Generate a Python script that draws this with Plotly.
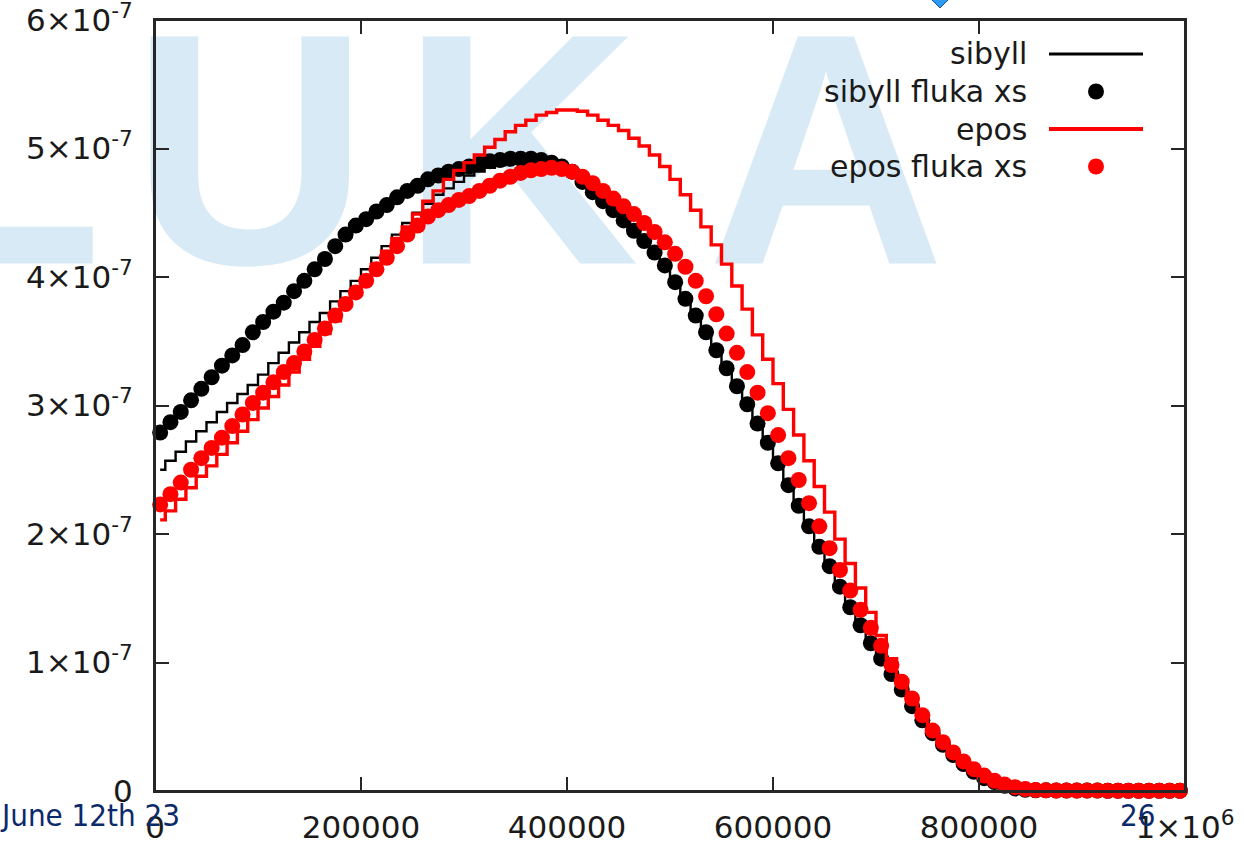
import numpy as np
import plotly.graph_objects as go

# ---------------- data (y values in units of 1e-7) ----------------
UNIT = 1e-7
BIN_CENTERS = np.arange(5000, 1000000, 10000)  # 100 bins, width 10000

SIBYLL = [
    2.50, 2.57, 2.64, 2.72, 2.80, 2.87, 2.95, 3.02, 3.09, 3.16,
    3.24, 3.33, 3.41, 3.49, 3.57, 3.65, 3.72, 3.81, 3.89, 3.97,
    4.06, 4.15, 4.24, 4.33, 4.42, 4.50, 4.57, 4.64, 4.69, 4.74,
    4.79, 4.82, 4.85, 4.87, 4.89, 4.90, 4.91, 4.90, 4.89, 4.86,
    4.80, 4.72, 4.64, 4.57, 4.50, 4.42, 4.34, 4.26, 4.17, 4.07,
    3.94, 3.81, 3.68, 3.55, 3.41, 3.27, 3.13, 2.99, 2.84, 2.69,
    2.53, 2.36, 2.20, 2.04, 1.88, 1.73, 1.57, 1.42, 1.28, 1.14,
    1.02, 0.90, 0.78, 0.65, 0.54, 0.44, 0.35, 0.27, 0.20, 0.14,
    0.10, 0.06, 0.04, 0.02, 0.01, 0.005, 0.004, 0.004, 0.003, 0.003,
    0.003, 0.002, 0.002, 0.002, 0.002, 0.002, 0.002, 0.002, 0.002, 0.002,
]

SIBYLL_FLUKA_XS = [
    2.79, 2.87, 2.95, 3.04, 3.13, 3.22, 3.31, 3.39, 3.47, 3.57,
    3.65, 3.73, 3.80, 3.89, 3.97, 4.06, 4.14, 4.24, 4.33, 4.40,
    4.45, 4.51, 4.56, 4.62, 4.67, 4.71, 4.76, 4.79, 4.82, 4.84,
    4.86, 4.88, 4.90, 4.91, 4.92, 4.92, 4.92, 4.91, 4.89, 4.86,
    4.82, 4.74, 4.66, 4.59, 4.52, 4.44, 4.36, 4.28, 4.19, 4.09,
    3.96, 3.83, 3.70, 3.57, 3.43, 3.29, 3.15, 3.01, 2.86, 2.71,
    2.55, 2.38, 2.22, 2.06, 1.90, 1.75, 1.59, 1.43, 1.29, 1.15,
    1.03, 0.91, 0.79, 0.66, 0.55, 0.45, 0.36, 0.28, 0.21, 0.15,
    0.10, 0.07, 0.04, 0.02, 0.01, 0.006, 0.005, 0.004, 0.004, 0.003,
    0.003, 0.003, 0.002, 0.002, 0.002, 0.002, 0.002, 0.002, 0.002, 0.002,
]

EPOS = [
    2.11, 2.18, 2.27, 2.36, 2.45, 2.53, 2.62, 2.71, 2.80, 2.89,
    2.98, 3.07, 3.16, 3.26, 3.36, 3.46, 3.56, 3.66, 3.77, 3.88,
    3.99, 4.10, 4.20, 4.30, 4.39, 4.49, 4.59, 4.67, 4.76, 4.83,
    4.89, 4.95, 5.01, 5.07, 5.13, 5.18, 5.22, 5.26, 5.28, 5.30,
    5.30, 5.29, 5.26, 5.22, 5.18, 5.14, 5.08, 5.02, 4.95, 4.86,
    4.76, 4.64, 4.52, 4.39, 4.25, 4.10, 3.93, 3.75, 3.55, 3.36,
    3.17, 2.97, 2.77, 2.57, 2.37, 2.17, 1.96, 1.77, 1.58, 1.39,
    1.21, 1.03, 0.86, 0.72, 0.59, 0.47, 0.38, 0.30, 0.23, 0.17,
    0.12, 0.08, 0.05, 0.03, 0.015, 0.007, 0.005, 0.004, 0.004, 0.003,
    0.003, 0.003, 0.002, 0.002, 0.002, 0.002, 0.002, 0.002, 0.002, 0.002,
]

EPOS_FLUKA_XS = [
    2.23, 2.31, 2.40, 2.50, 2.59, 2.67, 2.75, 2.84, 2.93, 3.02,
    3.10, 3.18, 3.26, 3.33, 3.42, 3.51, 3.60, 3.70, 3.79, 3.88,
    3.97, 4.06, 4.15, 4.24, 4.33, 4.40, 4.47, 4.52, 4.56, 4.60,
    4.63, 4.67, 4.71, 4.75, 4.78, 4.81, 4.83, 4.84, 4.85, 4.84,
    4.82, 4.78, 4.73, 4.67, 4.61, 4.55, 4.49, 4.42, 4.35, 4.27,
    4.18, 4.08, 3.97, 3.85, 3.71, 3.56, 3.41, 3.26, 3.10, 2.94,
    2.77, 2.59, 2.42, 2.24, 2.06, 1.89, 1.72, 1.56, 1.41, 1.27,
    1.13, 0.98, 0.85, 0.72, 0.59, 0.47, 0.38, 0.30, 0.23, 0.17,
    0.12, 0.08, 0.05, 0.03, 0.015, 0.007, 0.005, 0.004, 0.004, 0.003,
    0.003, 0.003, 0.002, 0.002, 0.002, 0.002, 0.002, 0.002, 0.002, 0.002,
]

SERIES_NAMES = ["sibyll", "sibyll fluka xs", "epos", "epos fluka xs"]

X_TICKS = [0, 200000, 400000, 600000, 800000, 1000000]
X_TICK_TEXT = ["0", "200000", "400000", "600000", "800000", "1×10<sup>6</sup>"]
Y_TICKS = [0, 1, 2, 3, 4, 5, 6]          # in units of 1e-7
Y_TICK_TEXT = ["0"] + [f"{k}×10<sup>-7</sup>" for k in range(1, 7)]

WATERMARK_LETTERS = ["U", "K", "A"]
WATERMARK_FIRST = "L"

X_RANGE = [0, 1000000]
Y_RANGE = [0, 6.00001]                   # in units of 1e-7

# ---------------- layout geometry (pixels) ----------------
W, H = 1244, 846
L_PX, R_PX, T_PX, B_PX = 155, 1185, 20, 791
TICKLEN = 14


def PX(px):
    return (px - L_PX) / (R_PX - L_PX)


def PY(py):
    return (B_PX - py) / (B_PX - T_PX)


def DX(px):
    return X_RANGE[0] + PX(px) * (X_RANGE[1] - X_RANGE[0])


def DY(py):
    return Y_RANGE[0] + PY(py) * (Y_RANGE[1] - Y_RANGE[0])


FONT = "DejaVu Sans, Verdana, sans-serif"
AXIS_COLOR = "#262626"
WM_FONT = dict(family="Liberation Sans, Arial, sans-serif", size=330,
               color="#d7eaf5", weight="bold")
WM_Y = DY(181)

fig = go.Figure()

# watermark (drawn first so the data lies on top)
fig.add_trace(go.Scatter(
    x=[DX(p) for p in (250, 520, 826)], y=[WM_Y] * 3,
    mode="text", text=WATERMARK_LETTERS, textposition="middle center",
    textfont=WM_FONT, cliponaxis=False, hoverinfo="skip", showlegend=False,
))
# the partly hidden first letter, right-anchored at the left edge of the frame
fig.add_trace(go.Scatter(
    x=[DX(155.6)], y=[WM_Y],
    mode="text",
    text=[WATERMARK_FIRST + "<span style='font-size:190px'>\u00a0</span>"],
    textposition="middle left",
    textfont=WM_FONT, cliponaxis=False, hoverinfo="skip", showlegend=False,
))

fig.add_trace(go.Scatter(x=BIN_CENTERS, y=SIBYLL, mode="lines", name=SERIES_NAMES[0],
                         line=dict(color="black", width=2.4, shape="hvh"), showlegend=False))
fig.add_trace(go.Scatter(x=BIN_CENTERS, y=SIBYLL_FLUKA_XS, mode="markers", name=SERIES_NAMES[1],
                         marker=dict(color="black", size=16), cliponaxis=False, showlegend=False))
fig.add_trace(go.Scatter(x=BIN_CENTERS, y=EPOS, mode="lines", name=SERIES_NAMES[2],
                         line=dict(color="#ff0000", width=3.4, shape="hvh"), showlegend=False))
fig.add_trace(go.Scatter(x=BIN_CENTERS, y=EPOS_FLUKA_XS, mode="markers", name=SERIES_NAMES[3],
                         marker=dict(color="#ff0000", size=16), cliponaxis=False, showlegend=False))

# manual gnuplot-style legend (text right-aligned, sample on the right)
annotations = []
shapes = []
leg_y = [54, 91.5, 129, 166.5]
for i, name in enumerate(SERIES_NAMES):
    annotations.append(dict(
        x=PX(1029), y=PY(leg_y[i]), xref="paper", yref="paper",
        text=name, showarrow=False, xanchor="right", yanchor="middle",
        font=dict(family=FONT, size=30, color="#1a1a1a"),
    ))
shapes.append(dict(type="line", xref="paper", yref="paper",
                   x0=PX(1049), x1=PX(1143), y0=PY(leg_y[0]), y1=PY(leg_y[0]),
                   line=dict(color="black", width=3)))
shapes.append(dict(type="line", xref="paper", yref="paper",
                   x0=PX(1049), x1=PX(1143), y0=PY(leg_y[2]), y1=PY(leg_y[2]),
                   line=dict(color="#ff0000", width=4)))
for idx, col in [(1, "black"), (3, "#ff0000")]:
    shapes.append(dict(type="circle", xref="paper", yref="paper",
                       xsizemode="pixel", ysizemode="pixel",
                       xanchor=PX(1096), yanchor=PY(leg_y[idx]),
                       x0=-8, x1=8, y0=-8, y1=8,
                       fillcolor=col, line=dict(width=0)))

# plot frame
shapes.append(dict(type="rect", xref="paper", yref="paper", x0=0, x1=1, y0=0, y1=1,
                   line=dict(color=AXIS_COLOR, width=2), fillcolor="rgba(0,0,0,0)",
                   layer="above"))
# mirrored x ticks along the top edge (gnuplot style)
for tv in X_TICKS[1:-1]:
    shapes.append(dict(type="line", xref="x", yref="paper", x0=tv, x1=tv,
                       y0=1, y1=1 - TICKLEN / (B_PX - T_PX),
                       line=dict(color=AXIS_COLOR, width=1.8), layer="above"))

# small slide icon at the top edge
cx, cy, s = 940, 0, 8
shapes.append(dict(type="path", xref="paper", yref="paper",
                   path=(f"M {PX(cx)},{PY(cy - s)} L {PX(cx + s)},{PY(cy)} "
                         f"L {PX(cx)},{PY(cy + s)} L {PX(cx - s)},{PY(cy)} Z"),
                   fillcolor="#2b9cf2", line=dict(color="#1b4f9c", width=1)))

# slide footer texts
FOOT_FONT = dict(family="DejaVu Sans Condensed, Tahoma, sans-serif", size=31, color="#0b2a6b")
annotations.append(dict(x=PX(-2), y=PY(815), xref="paper", yref="paper",
                        text="June 12th 23", showarrow=False, xanchor="left", yanchor="middle",
                        font=FOOT_FONT))
annotations.append(dict(x=PX(1137), y=PY(815), xref="paper", yref="paper",
                        text="26", showarrow=False, xanchor="center", yanchor="middle",
                        font=FOOT_FONT))

axis_common = dict(
    showline=True, linecolor=AXIS_COLOR, linewidth=2, mirror="ticks",
    ticks="inside", ticklen=TICKLEN, tickwidth=1.8, tickcolor=AXIS_COLOR,
    showgrid=False, zeroline=False, automargin=False, ticklabeloverflow="allow",
    tickfont=dict(family=FONT, size=31, color="#1a1a1a"),
)

fig.update_layout(
    width=W, height=H,
    margin=dict(l=L_PX, r=W - R_PX, t=T_PX, b=H - B_PX, pad=0),
    paper_bgcolor="white", plot_bgcolor="rgba(0,0,0,0)",
    xaxis=dict(range=X_RANGE, tickmode="array", tickvals=X_TICKS, ticktext=X_TICK_TEXT,
               ticklabelstandoff=8, **axis_common),
    yaxis=dict(range=Y_RANGE, tickmode="array", tickvals=Y_TICKS, ticktext=Y_TICK_TEXT,
               ticklabelstandoff=14, **axis_common),
    annotations=annotations, shapes=shapes, showlegend=False,
)

fig.write_html("out.html")
